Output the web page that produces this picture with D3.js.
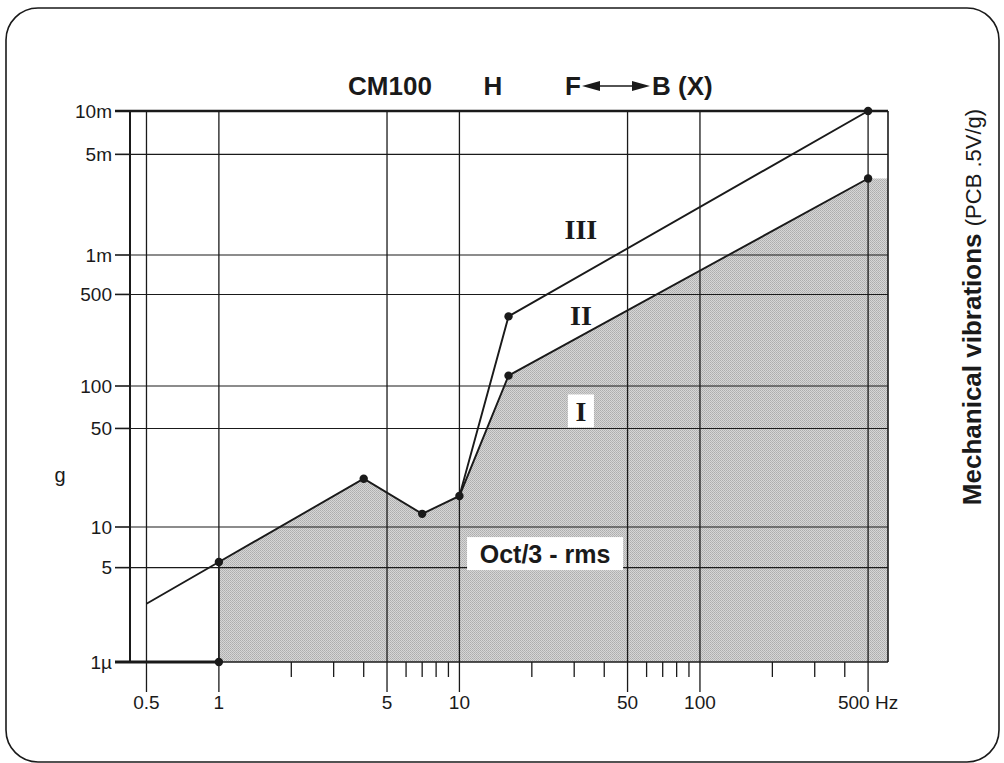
<!DOCTYPE html>
<html>
<head>
<meta charset="utf-8">
<script src="https://cdn.jsdelivr.net/npm/d3@7"></script>
<style>
  html,body{margin:0;padding:0;background:#fff;}
  svg{display:block;font-family:"Liberation Sans",Arial,sans-serif;}
</style>
</head>
<body>
<div id="chart"></div>
<script>
// frequency axis (Hz)
const freqTicks=[0.5,1,5,10,50,100,500];
const freqLabels=["0.5","1","5","10","50","100","500 Hz"];
const freqMinor=[2,3,4,6,7,8,9,20,30,40,60,70,80,90,200,300,400];
// level axis (µg)
const levelTicks=[1,5,10,50,100,500,1000,5000,10000];
const levelLabels=["1\u00b5","5","10","50","100","500","1m","5m","10m"];
// curve I (top of shaded area) and the II/III boundary
const curveFreq=[0.5,1,4,7,10,16,500];
const curveLevel=[2.7,5.5,22,12.4,16.6,120,3400];
const upperFreq=[10,16,500];
const upperLevel=[16.6,340,10000];
const zoneNames=["III","II","I"];
const zoneFreq=[32,32,32];
const zoneLevel=[1500,350,66];

(function(){
  const W=1004,H=763;
  const svg=d3.select("#chart").append("svg").attr("width",W).attr("height",H);
  const ink="#1a1a1a";
  const fMin=0.427,fMax=605;
  const x=d3.scaleLog().domain([fMin,fMax]).range([130,888]);
  const y=d3.scaleLog().domain([1,10,100,1000,10000]).range([662,527,386,255,111]);
  const x0=x(fMin),x1=x(fMax),yb=y(1),yt=y(10000);

  // halftone fill
  const pat=svg.append("defs").append("pattern").attr("id","dots")
    .attr("width",2).attr("height",2).attr("patternUnits","userSpaceOnUse");
  pat.append("rect").attr("width",2).attr("height",2).attr("fill","#d6d6d6");
  pat.append("rect").attr("width",1).attr("height",1).attr("fill","#adadad");
  pat.append("rect").attr("x",1).attr("y",1).attr("width",1).attr("height",1).attr("fill","#b6b6b6");

  // outer rounded border
  svg.append("rect").attr("x",6).attr("y",8).attr("width",993).attr("height",754)
    .attr("rx",32).attr("fill","none").attr("stroke",ink).attr("stroke-width",1.6);

  const curve=curveFreq.map((f,i)=>({f,v:curveLevel[i]}));
  const upper=upperFreq.map((f,i)=>({f,v:upperLevel[i]}));
  const shaded=curve.filter(d=>d.f>=1);
  const area=[{f:1,v:1},...shaded,{f:fMax,v:shaded[shaded.length-1].v},{f:fMax,v:1}];
  const line=d3.line().x(d=>x(d.f)).y(d=>y(d.v));
  svg.append("path").datum(area).attr("d",line).attr("fill","url(#dots)");

  // grid
  svg.append("g").selectAll("line").data(levelTicks.slice(1,-1)).join("line")
    .attr("x1",x0).attr("x2",x1).attr("y1",d=>y(d)).attr("y2",d=>y(d))
    .attr("stroke",ink).attr("stroke-width",1.1);
  svg.append("g").selectAll("line").data(freqTicks).join("line")
    .attr("x1",d=>x(d)).attr("x2",d=>x(d)).attr("y1",yt).attr("y2",yb+30)
    .attr("stroke",ink).attr("stroke-width",1.3);
  svg.append("g").selectAll("line").data(freqMinor).join("line")
    .attr("x1",d=>x(d)).attr("x2",d=>x(d)).attr("y1",yb).attr("y2",yb+15)
    .attr("stroke",ink).attr("stroke-width",1.3);

  // frame
  svg.append("line").attr("x1",x0).attr("x2",x0).attr("y1",yt).attr("y2",yb).attr("stroke",ink).attr("stroke-width",2);
  svg.append("line").attr("x1",x1).attr("x2",x1).attr("y1",yt).attr("y2",yb).attr("stroke",ink).attr("stroke-width",1.6);
  svg.append("line").attr("x1",x0-15).attr("x2",x1).attr("y1",yt).attr("y2",yt).attr("stroke",ink).attr("stroke-width",2.6);
  svg.append("line").attr("x1",x(1)).attr("x2",x1).attr("y1",yb).attr("y2",yb).attr("stroke",ink).attr("stroke-width",1.6);
  svg.append("line").attr("x1",x0-15).attr("x2",x(1)).attr("y1",yb).attr("y2",yb).attr("stroke",ink).attr("stroke-width",3);
  svg.append("line").attr("x1",x(1)).attr("x2",x(1)).attr("y1",yb).attr("y2",y(shaded[0].v)).attr("stroke",ink).attr("stroke-width",1.4);

  // y axis ticks + labels
  const ya=svg.append("g");
  ya.selectAll("line").data(levelTicks).join("line")
    .attr("x1",x0-15).attr("x2",x0).attr("y1",d=>y(d)).attr("y2",d=>y(d))
    .attr("stroke",ink).attr("stroke-width",1.6);
  ya.selectAll("text").data(levelTicks).join("text")
    .attr("x",x0-18).attr("y",d=>y(d)).attr("dy","0.36em").attr("text-anchor","end")
    .attr("font-size",19).attr("fill",ink).text((d,i)=>levelLabels[i]);
  svg.append("text").attr("x",60).attr("y",478).attr("dy","0.2em").attr("text-anchor","middle")
    .attr("font-size",20).attr("fill",ink).text("g");

  // x axis labels
  svg.append("g").selectAll("text").data(freqTicks).join("text")
    .attr("x",d=>x(d)).attr("y",yb+47).attr("text-anchor","middle")
    .attr("font-size",19).attr("fill",ink).text((d,i)=>freqLabels[i]);

  // curves
  svg.append("path").datum(curve).attr("d",line).attr("fill","none").attr("stroke",ink).attr("stroke-width",1.9);
  svg.append("path").datum(upper).attr("d",line).attr("fill","none").attr("stroke",ink).attr("stroke-width",1.9);
  const dots=[{f:1,v:1},...curve.slice(1),...upper.slice(1)];
  svg.append("g").selectAll("circle").data(dots).join("circle")
    .attr("cx",d=>x(d.f)).attr("cy",d=>y(d.v)).attr("r",4.2).attr("fill",ink);

  // zone labels
  zoneNames.forEach((n,i)=>{
    const gx=x(zoneFreq[i]),gy=y(zoneLevel[i]);
    if(n==="I") svg.append("rect").attr("x",gx-13).attr("y",gy-17).attr("width",26).attr("height",33).attr("fill","#fff");
    svg.append("text").attr("x",gx).attr("y",gy).attr("dy","0.35em").attr("text-anchor","middle")
      .attr("font-family","'Liberation Serif','Times New Roman',serif").attr("font-weight","bold")
      .attr("font-size",28).attr("fill",ink).text(n);
  });
  const ox=x(22.7),oy=y(6.3);
  svg.append("rect").attr("x",ox-78).attr("y",oy-17).attr("width",156).attr("height",33).attr("fill","#fff");
  svg.append("text").attr("x",ox).attr("y",oy).attr("dy","0.36em").attr("text-anchor","middle")
    .attr("font-weight","bold").attr("font-size",25).attr("fill",ink).text("Oct/3 - rms");

  // title
  const ty=95;
  svg.append("text").attr("x",390).attr("y",ty).attr("text-anchor","middle").attr("font-weight","bold").attr("font-size",26).attr("fill",ink).text("CM100");
  svg.append("text").attr("x",493).attr("y",ty).attr("text-anchor","middle").attr("font-weight","bold").attr("font-size",26).attr("fill",ink).text("H");
  svg.append("text").attr("x",565).attr("y",ty).attr("font-weight","bold").attr("font-size",26).attr("fill",ink).text("F");
  svg.append("text").attr("x",652).attr("y",ty).attr("font-weight","bold").attr("font-size",26).attr("fill",ink).text("B (X)");
  const ay=ty-9;
  svg.append("line").attr("x1",590).attr("x2",640).attr("y1",ay).attr("y2",ay).attr("stroke",ink).attr("stroke-width",1.6);
  svg.append("path").attr("d",`M582,${ay}L600,${ay-5}L600,${ay+5}Z`).attr("fill",ink);
  svg.append("path").attr("d",`M650,${ay}L632,${ay-5}L632,${ay+5}Z`).attr("fill",ink);

  // right side label
  const side=svg.append("text").attr("transform","translate(981,307) rotate(-90)")
    .attr("text-anchor","middle").attr("fill",ink);
  side.append("tspan").attr("font-weight","bold").attr("font-size",26).text("Mechanical vibrations ");
  side.append("tspan").attr("font-size",22).text("(PCB .5V/g)");
})();
</script>
</body>
</html>
